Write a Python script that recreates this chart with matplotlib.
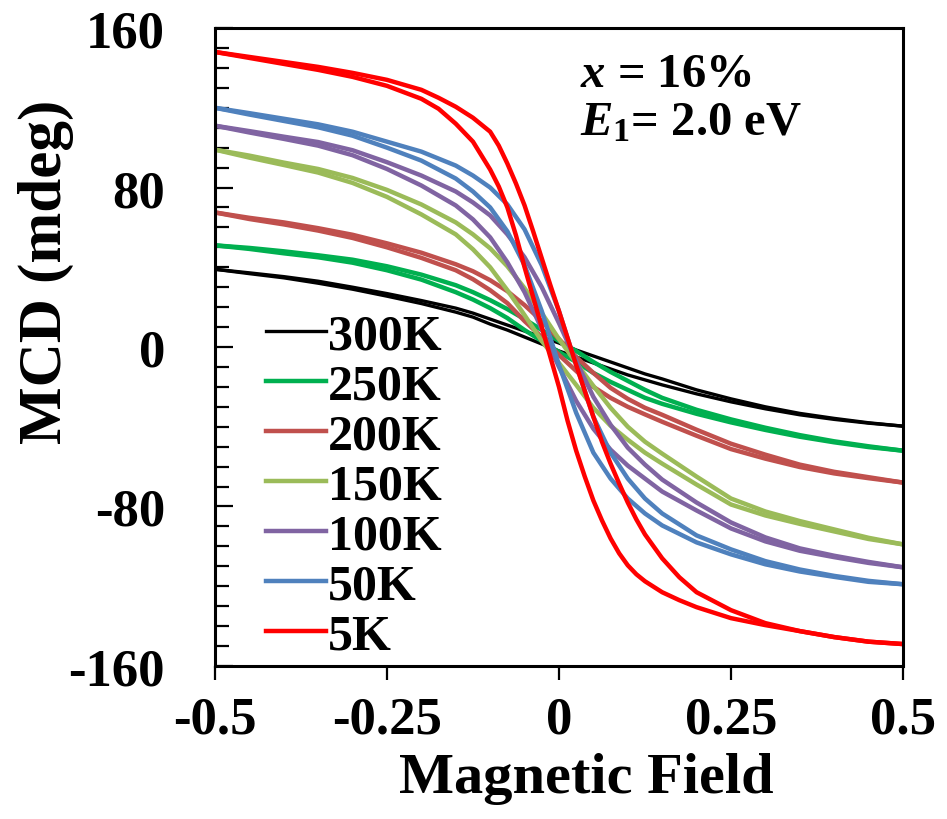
import numpy as np
import matplotlib.pyplot as plt
from matplotlib.ticker import MultipleLocator

plt.rcParams['font.family'] = 'Liberation Serif'
plt.rcParams['font.weight'] = 'bold'
plt.rcParams['axes.labelweight'] = 'bold'
plt.rcParams['mathtext.fontset'] = 'custom'
plt.rcParams['mathtext.rm'] = 'Liberation Serif:bold'
plt.rcParams['mathtext.it'] = 'Liberation Serif:italic:bold'
plt.rcParams['mathtext.bf'] = 'Liberation Serif:bold'

# magnetic field grid (both sweep branches share it)
field = [-0.5, -0.45, -0.4, -0.35, -0.3, -0.25, -0.2, -0.15, -0.125, -0.1, -0.075,
         -0.05, -0.025, 0, 0.025, 0.05, 0.075, 0.1, 0.125, 0.15, 0.2, 0.25, 0.3,
         0.35, 0.4, 0.45, 0.5]

# MCD (mdeg), branch a = crosses zero at +H, branch b = crosses zero at -H
k300_a = [39, 37.2, 35.3, 33, 30, 26.8, 23.3, 19.5, 17, 14, 11, 8, 5, 2, -1.5, -4.5,
          -7.5, -10.5, -13.5, -16, -21.5, -26, -30, -33.3, -35.8, -38, -39.7]
k300_b = [39, 36.8, 34.7, 32, 29, 25.5, 21.8, 17.5, 15, 11.5, 8.5, 5, 1.5, -2, -5, -8,
          -11, -14, -16.5, -19, -23.5, -27.5, -31, -34, -36.3, -38.2, -39.7]

k250_a = [51, 49.7, 48, 46, 43.8, 40.5, 36.3, 31, 27.5, 23.5, 19, 14, 8.5, 3, -2, -7.5,
          -12.5, -17, -21.5, -25.5, -31.5, -36.3, -40.5, -44.2, -47.3, -49.8, -52]
k250_b = [51, 49.2, 47, 45, 42.3, 38.5, 33.8, 27.5, 23.8, 19.5, 14.5, 8.5, 3, -2.5, -7.5,
          -13, -17.5, -21.5, -25.5, -28.5, -33.5, -37.8, -41.6, -45, -47.8, -50.2, -52]

k200_a = [67.5, 64.8, 62.5, 59.6, 56.3, 52, 47.3, 41.5, 38, 33.5, 28, 21, 13, 4, -5, -13,
          -20.5, -26, -30.5, -34, -41.5, -48.5, -54, -59, -62.6, -65.3, -68]
k200_b = [67.5, 64.2, 61.5, 58.4, 54.7, 50, 44.7, 38.5, 34, 28.5, 22, 13, 5, -4, -12, -20,
          -25.5, -30, -33.8, -37.5, -44.5, -51.2, -56, -60.2, -63.4, -65.8, -68]

k150_a = [99, 96, 92.5, 89.3, 84.8, 78.8, 71.5, 62.5, 56.5, 49.5, 40.5, 29.5, 17, 4, -8,
          -19.5, -30.5, -40, -47.5, -53.5, -65, -76, -82.5, -87.3, -91.5, -95.7, -99]
k150_b = [99, 95, 91.3, 87.5, 82.3, 75.3, 66.5, 56.5, 49, 40, 28.5, 16, 3, -8, -19, -30.5,
          -39.5, -46.5, -53, -58.5, -69, -79, -84.5, -88.7, -92.5, -96.3, -99]

k100_a = [111, 108.3, 105.5, 102.8, 98.7, 92.7, 86, 78, 72.5, 66, 56.5, 45, 30, 12, -7,
          -25, -39, -50.5, -59, -66.5, -78, -88, -95.5, -101, -104.7, -107.8, -110.5]
k100_b = [111, 107.6, 104.4, 101, 96.2, 89.3, 81, 71, 64, 55, 42.5, 27.5, 9, -10, -27,
          -41, -51.5, -59.5, -66, -72.5, -82, -91, -97.5, -102.2, -105.4, -108.3, -110.5]

k50_a = [120, 117.3, 114.5, 111.7, 108, 103, 98, 91, 86, 80, 71.5, 59, 41, 18, -9, -35,
         -53, -66, -76, -83.5, -94.5, -101.5, -107.4, -111.6, -114.8, -117.3, -119]
k50_b = [120, 116.6, 113.4, 110.2, 106, 100, 93.5, 84.5, 78, 70, 58, 41, 18, -9, -33, -53,
         -66, -76, -83.5, -89.5, -98, -104, -109, -112.6, -115.3, -117.8, -119]

# 5K loop is much steeper, read on a finer field grid
field_5k = [-0.5, -0.45, -0.4, -0.35, -0.3, -0.25, -0.2, -0.175, -0.15, -0.125, -0.1,
            -0.0875, -0.075, -0.0625, -0.05, -0.0375, -0.025, -0.0125, 0, 0.0125, 0.025,
            0.0375, 0.05, 0.0625, 0.075, 0.0875, 0.1, 0.1125, 0.125, 0.15, 0.175, 0.2,
            0.25, 0.3, 0.35, 0.4, 0.45, 0.5]
k5_a = [148, 145.5, 143, 140.5, 137.5, 134, 129, 125, 120.5, 115, 108, 101, 92, 82, 71,
        58, 44.5, 31, 18, 4.5, -9, -22, -35, -47.5, -58.5, -68.5, -78, -86.5, -94, -106,
        -115.5, -123, -132, -138.5, -142.5, -145.5, -147.8, -149]
k5_b = [148, 145, 142, 139, 135.5, 131, 124.5, 119.5, 112, 103, 89, 80.5, 70, 56, 40, 25,
        10, -5, -20, -37, -52, -65, -77, -87, -96, -103.5, -109.5, -114, -117.5, -123,
        -127, -130.5, -136, -139.5, -142.5, -145.5, -147.8, -149]

labels = ['300K', '250K', '200K', '150K', '100K', '50K', '5K']
colors = ['#000000', '#00B050', '#C0504D', '#9BBB59', '#8064A2', '#4F81BD', '#FF0000']
fields = [field] * 6 + [field_5k]
branches = [(k300_a, k300_b), (k250_a, k250_b), (k200_a, k200_b), (k150_a, k150_b),
            (k100_a, k100_b), (k50_a, k50_b), (k5_a, k5_b)]

fig = plt.figure(figsize=(9.47, 8.2), dpi=100)
ax = fig.add_axes([0.227, 0.1866, 0.7265, 0.778])

for lab, col, h, (ya, yb) in zip(labels, colors, fields, branches):
    lw = 2.4 if col == '#000000' else 3.2
    ax.plot(h, ya, color=col, lw=lw, solid_joinstyle='round', label=lab)
    ax.plot(h, yb, color=col, lw=lw, solid_joinstyle='round')

ax.set_xlim(-0.5, 0.5)
ax.set_ylim(-160, 160)
ax.set_xticks([-0.5, -0.25, 0, 0.25, 0.5])
ax.set_xticklabels(['-0.5', '-0.25', '0', '0.25', '0.5'])
ax.set_yticks([-160, -80, 0, 80, 160])
ax.set_yticklabels(['-160', '-80', '0', '80', '160'])
ax.yaxis.set_minor_locator(MultipleLocator(10))

for s in ax.spines.values():
    s.set_linewidth(2.2)
ax.tick_params(axis='x', direction='out', length=10, width=1.6, labelsize=38, pad=11)
ax.tick_params(axis='y', which='major', direction='in', length=13, width=1.6,
               labelsize=38, pad=36)
ax.tick_params(axis='y', which='minor', direction='in', length=10, width=1.6)

ax.set_xlabel('Magnetic Field', fontsize=42)
ax.xaxis.set_label_coords(0.54, -0.135)
ax.set_ylabel('MCD (mdeg)', fontsize=44)
ax.yaxis.set_label_coords(-0.205, 0.62)

ax.text(0.53, 0.962, r'$x$ = 16%', transform=ax.transAxes, fontsize=35, va='top')
ax.text(0.53, 0.887, r'$E_\mathrm{1}$= 2.0 eV', transform=ax.transAxes, fontsize=35, va='top')

leg = ax.legend(loc='upper left', bbox_to_anchor=(0.0745, 0.553), frameon=False,
                fontsize=36, handlelength=1.2, handletextpad=0.04,
                labelspacing=0.08, borderpad=0, borderaxespad=0)

fig.savefig('out.png', dpi=100)
